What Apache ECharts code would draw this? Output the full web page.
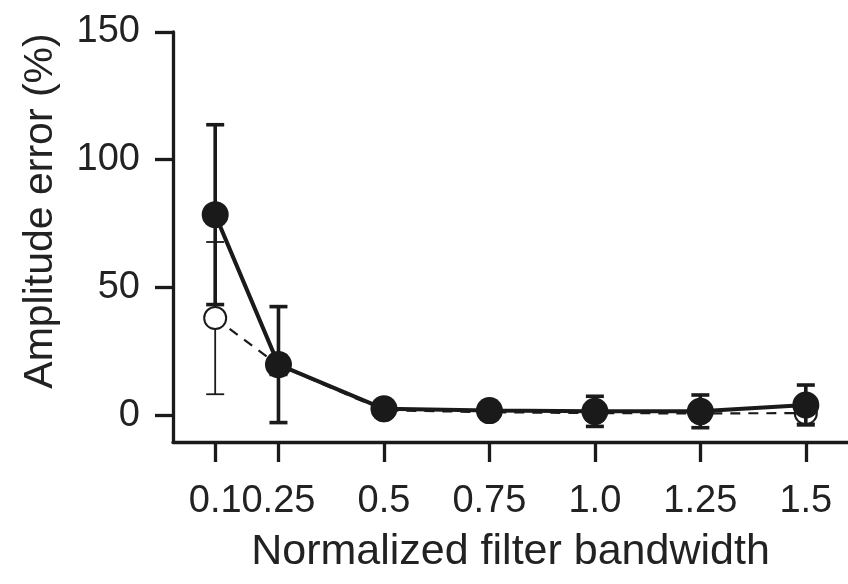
<!DOCTYPE html>
<html>
<head>
<meta charset="utf-8">
<script src="https://cdn.jsdelivr.net/npm/echarts@6/dist/echarts.min.js"></script>
<style>
html,body{margin:0;padding:0;background:#fff;}
#chart{width:848px;height:584px;}
</style>
</head>
<body>
<div id="chart"></div>
<script>
// ---- data ----
var bandwidths = [0.1, 0.25, 0.5, 0.75, 1.0, 1.25, 1.5];
var xTickLabels = ["0.1", "0.25", "0.5", "0.75", "1.0", "1.25", "1.5"];
var yTicks = [0, 50, 100, 150];
var filledMean = [78.5, 19.8, 2.5, 1.8, 1.5, 1.5, 4.0];
var filledErr  = [35.2, 22.7, 1.5, 1.5, 5.9, 6.4, 7.8];
var openMean   = [38.0, 19.6, 1.9, 1.2, 0.8, 0.7, 0.8];
var openErr    = [29.8, 4.0, 1.0, 1.0, 3.0, 3.0, 4.0];

var FONT = 'Liberation Sans';
var INK = '#1a1a1a';

function pairs(xs, ys){ return xs.map(function(x,i){ return [x, ys[i]]; }); }
function errData(xs, m, e){ return xs.map(function(x,i){ return [x, m[i]-e[i], m[i]+e[i]]; }); }

function errRenderer(lw, capW){
  return function(params, api){
    var x = api.value(0);
    var lo = api.coord([x, api.value(1)]);
    var hi = api.coord([x, api.value(2)]);
    var st = {stroke: INK, lineWidth: lw, fill: null};
    return {
      type: 'group',
      children: [
        {type:'line', shape:{x1:lo[0], y1:lo[1], x2:hi[0], y2:hi[1]}, style: st},
        {type:'line', shape:{x1:lo[0]-capW/2, y1:lo[1], x2:lo[0]+capW/2, y2:lo[1]}, style: st},
        {type:'line', shape:{x1:hi[0]-capW/2, y1:hi[1], x2:hi[0]+capW/2, y2:hi[1]}, style: st}
      ]
    };
  };
}

var chart = echarts.init(document.getElementById('chart'), null, {renderer:'canvas'});
chart.setOption({
  animation: false,
  backgroundColor: '#fff',
  grid: {left: 173, right: 0, top: 32, bottom: 142},
  xAxis: {
    type: 'value', min: 0, max: 1.6,
    name: 'Normalized filter bandwidth',
    nameLocation: 'middle', nameGap: 89,
    nameTextStyle: {fontFamily: FONT, fontSize: 43, color: '#222'},
    axisLine: {show: true, onZero: false, lineStyle: {color: INK, width: 3.3}},
    axisTick: {show: true, length: 20, customValues: bandwidths, lineStyle: {color: INK, width: 3.3}},
    axisLabel: {
      customValues: bandwidths, margin: 41,
      hideOverlap: false, showMinLabel: true, showMaxLabel: true,
      fontFamily: FONT, fontSize: 38, color: '#222',
      formatter: function(v){
        for (var i=0;i<bandwidths.length;i++){ if (Math.abs(bandwidths[i]-v)<1e-9) return xTickLabels[i]; }
        return '';
      }
    },
    splitLine: {show: false}
  },
  yAxis: {
    type: 'value', min: -10.5, max: 150,
    name: 'Amplitude error (%)',
    nameLocation: 'middle', nameGap: 112, nameRotate: 90,
    nameTextStyle: {fontFamily: FONT, fontSize: 41, color: '#222', padding: [0,0,0,52]},
    axisLine: {show: true, onZero: false, lineStyle: {color: INK, width: 3.3}},
    axisTick: {show: true, length: 18, customValues: yTicks, lineStyle: {color: INK, width: 3.3}},
    axisLabel: {customValues: yTicks, margin: 33, showMinLabel: true, showMaxLabel: true, fontFamily: FONT, fontSize: 38, color: '#222'},
    splitLine: {show: false}
  },
  series: [
    {
      type: 'custom', name: 'openErr', z: 2,
      renderItem: errRenderer(1.8, 18),
      data: errData(bandwidths, openMean, openErr),
      encode: {x: 0, y: [1, 2]}
    },
    {
      type: 'line', name: 'open', z: 3,
      data: pairs(bandwidths, openMean),
      symbol: 'circle', symbolSize: 22,
      lineStyle: {color: INK, width: 2.2, type: [10, 8]},
      itemStyle: {color: '#fff', borderColor: INK, borderWidth: 2}
    },
    {
      type: 'custom', name: 'filledErr', z: 4,
      renderItem: errRenderer(3.6, 18),
      data: errData(bandwidths, filledMean, filledErr),
      encode: {x: 0, y: [1, 2]}
    },
    {
      type: 'line', name: 'filled', z: 5,
      data: pairs(bandwidths, filledMean),
      symbol: 'circle', symbolSize: 27,
      lineStyle: {color: INK, width: 4},
      itemStyle: {color: INK, borderWidth: 0}
    }
  ]
});
</script>
</body>
</html>
